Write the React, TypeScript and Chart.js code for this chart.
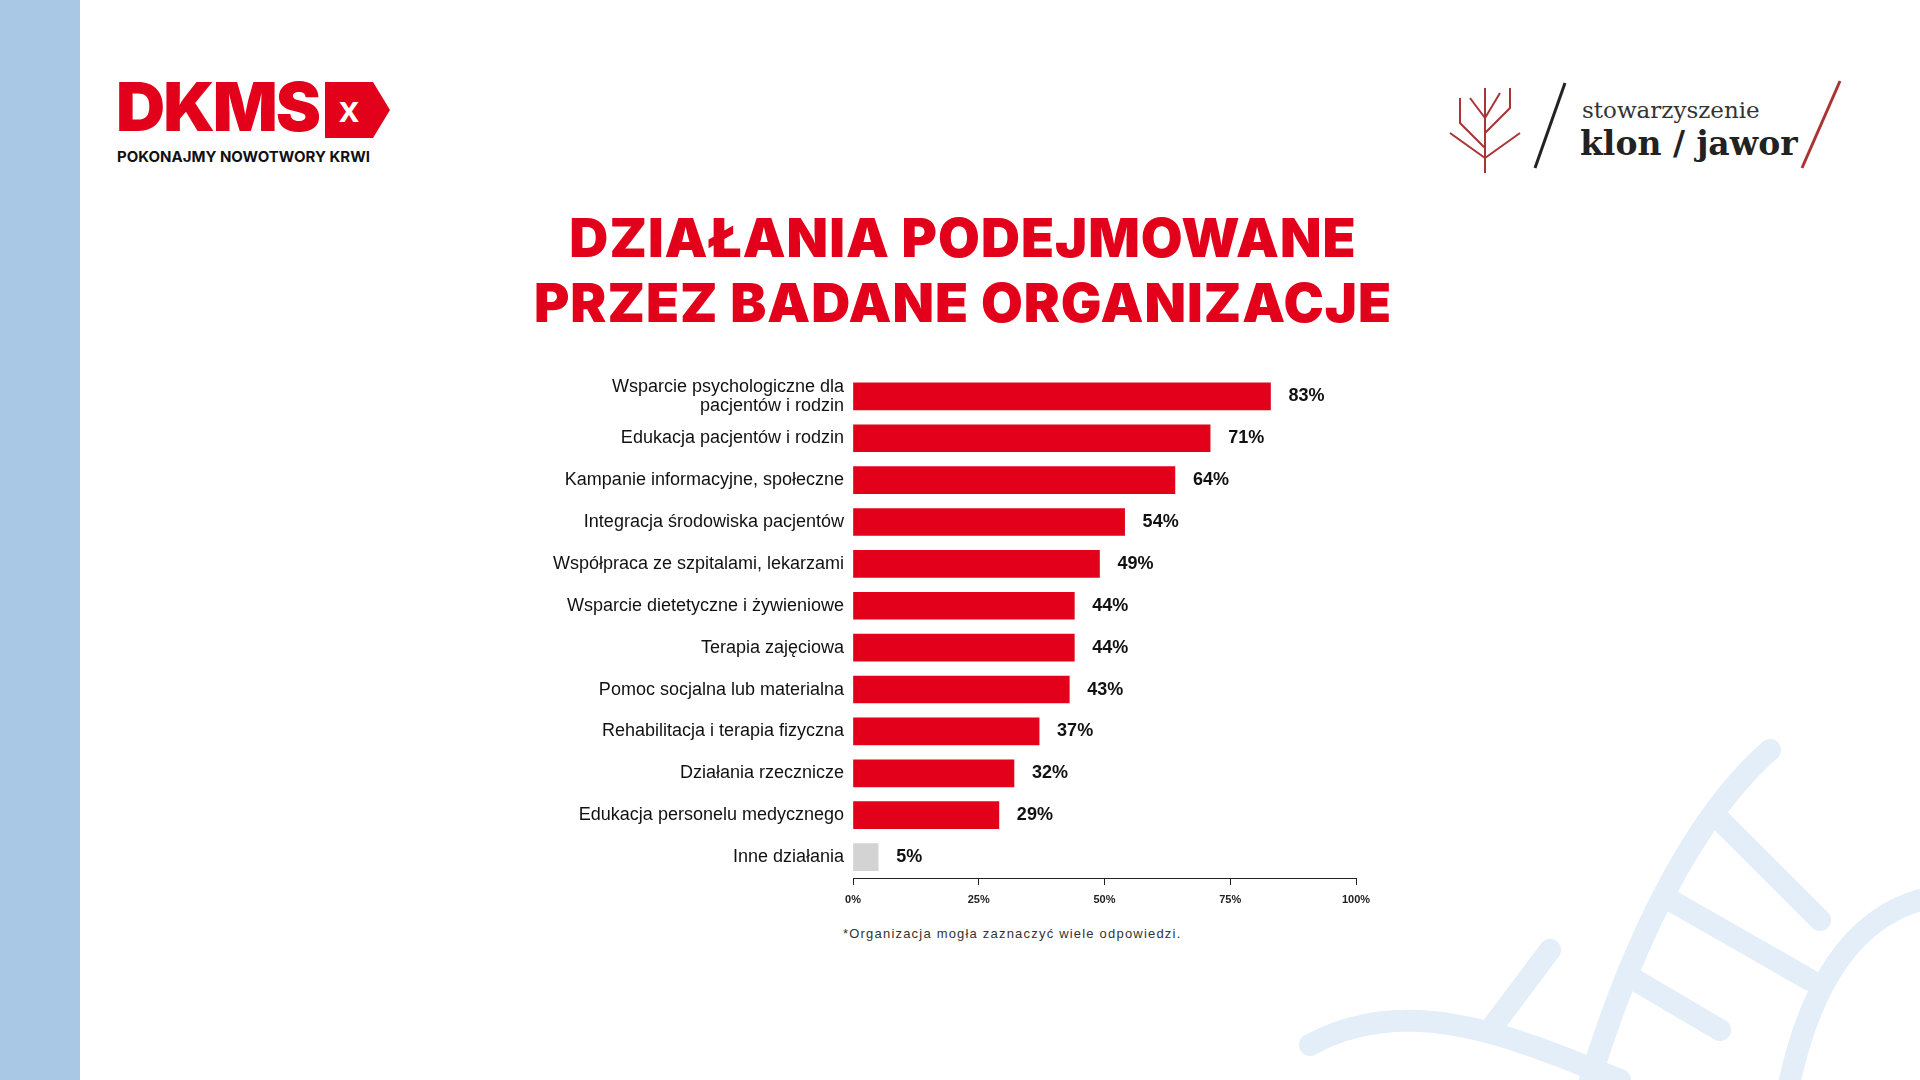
import React, { useEffect, useRef } from "react";
import { Chart, registerables } from "chart.js";
Chart.register(...registerables);

const categories: (string | string[])[] = [
  ["Wsparcie psychologiczne dla", "pacjentów i rodzin"],
  "Edukacja pacjentów i rodzin",
  "Kampanie informacyjne, społeczne",
  "Integracja środowiska pacjentów",
  "Współpraca ze szpitalami, lekarzami",
  "Wsparcie dietetyczne i żywieniowe",
  "Terapia zajęciowa",
  "Pomoc socjalna lub materialna",
  "Rehabilitacja i terapia fizyczna",
  "Działania rzecznicze",
  "Edukacja personelu medycznego",
  "Inne działania",
];
const values = [83, 71, 64, 54, 49, 44, 44, 43, 37, 32, 29, 5];
const barColors = values.map((_, i) => (i === values.length - 1 ? "#d3d3d3" : "#e2001a"));
const tickValues = [0, 25, 50, 75, 100];

const labelPlugin = {
  id: "valLabels",
  afterDatasetsDraw(chart: any) {
    const ctx = chart.ctx;
    const meta = chart.getDatasetMeta(0);
    ctx.save();
    ctx.font = "bold 18px 'Liberation Sans', Arial, sans-serif";
    ctx.fillStyle = "#111";
    ctx.textBaseline = "middle";
    meta.data.forEach((bar: any, i: number) => {
      ctx.fillText(values[i] + "%", bar.x + 18, bar.y);
    });
    ctx.restore();
  },
};

export default function App() {
  const ref = useRef<HTMLCanvasElement>(null);
  useEffect(() => {
    const chart = new Chart(ref.current!, {
      type: "bar",
      data: {
        labels: categories,
        datasets: [{ data: values, backgroundColor: barColors, barThickness: 27 }],
      },
      options: {
        indexAxis: "y",
        animation: false,
        responsive: false,
        layout: { padding: { top: 0, right: 59, left: 0, bottom: 0 } },
        plugins: { legend: { display: false }, tooltip: { enabled: false } },
        scales: {
          x: {
            min: 0,
            max: 100,
            afterBuildTicks: (s: any) => { s.ticks = tickValues.map((v) => ({ value: v })); },
            afterFit: (s: any) => { s.height = 40; },
            grid: { drawOnChartArea: false, tickLength: 7, color: "#222" },
            border: { display: true, color: "#222" },
            ticks: { padding: 8, callback: (v: any) => v + "%", color: "#222", font: { size: 11, family: "'Liberation Sans', Arial", weight: "bold" }, maxRotation: 0 },
          },
          y: {
            afterFit: (s: any) => { s.width = 338; },
            grid: { display: false },
            border: { display: false },
            ticks: { autoSkip: false, color: "#111", font: { size: 18, family: "'Liberation Sans', Arial", lineHeight: 1.05 }, padding: 1 },
          },
        },
      },
      plugins: [labelPlugin],
    });
    return () => chart.destroy();
  }, []);

  const sans = "'Inter', 'Lato', 'Liberation Sans', sans-serif";
  return (
    <div style={{ position: "absolute", left: 0, top: 0, width: 1920, height: 1080, background: "#fff", overflow: "hidden" }}>
      <div style={{ position: "absolute", left: 0, top: 0, width: 80, height: 1080, background: "#a9c8e6" }} />
      <svg style={{ position: "absolute", left: 1290, top: 730 }} width="630" height="350" viewBox="0 0 630 350">
        <g fill="none" stroke="#e3eef9" strokeWidth="22" strokeLinecap="round">
          <path d="M20 315 C 120 260, 230 310, 330 350" />
          <path d="M480 20 C 400 90, 340 220, 300 350" />
          <path d="M630 170 C 560 190, 520 260, 500 350" />
          <line x1="430" y1="90" x2="530" y2="190" />
          <line x1="380" y1="170" x2="520" y2="250" />
          <line x1="345" y1="250" x2="430" y2="300" />
          <line x1="200" y1="300" x2="260" y2="220" />
        </g>
      </svg>
      <div style={{ position: "absolute", left: 116, top: 72, fontFamily: sans, fontWeight: 900, fontSize: 68, color: "#e2001a", letterSpacing: -2, lineHeight: 1 }}>DKMS</div>
      <svg style={{ position: "absolute", left: 325, top: 82 }} width="65" height="56">
        <polygon points="0,0 48,0 65,28 48,56 0,56" fill="#e2001a" />
        <text x="24" y="40" textAnchor="middle" fill="#fff" fontSize="36" fontWeight="bold" fontFamily="Liberation Sans">x</text>
      </svg>
      <div style={{ position: "absolute", left: 117, top: 147, fontFamily: sans, fontWeight: 700, fontSize: 15, color: "#111" }}>POKONAJMY NOWOTWORY KRWI</div>
      <svg style={{ position: "absolute", left: 1440, top: 78 }} width="420" height="100">
        <g stroke="#a33" strokeWidth="2" fill="none">
          <line x1="45" y1="95" x2="45" y2="10" />
          <path d="M45 70 L20 45 L20 20 M45 55 L70 30 L70 10 M45 80 L10 55 M45 80 L80 55 M45 40 L30 20 M45 40 L60 15" />
        </g>
        <line x1="95" y1="90" x2="125" y2="5" stroke="#222" strokeWidth="3" />
        <text x="142" y="40" fontFamily="'DejaVu Serif', serif" fontSize="23" fill="#333">stowarzyszenie</text>
        <text x="140" y="77" fontFamily="'DejaVu Serif', serif" fontSize="33" fontWeight="bold" fill="#222">klon / jawor</text>
        <line x1="362" y1="90" x2="400" y2="3" stroke="#a33" strokeWidth="3" />
      </svg>
      <div style={{ position: "absolute", left: 0, width: 1926, top: 205, textAlign: "center", fontFamily: sans, fontWeight: 900, fontSize: 54, lineHeight: "65px", color: "#e2001a", letterSpacing: 1 }}>
        DZIAŁANIA PODEJMOWANE<br />PRZEZ BADANE ORGANIZACJE
      </div>
      <canvas ref={ref} width={900} height={553} style={{ position: "absolute", left: 515, top: 365, width: 900, height: 553 }} />
      <div style={{ position: "absolute", left: 843, top: 926, fontFamily: "'Liberation Sans', Arial", fontSize: 13, letterSpacing: 1.2, color: "#333" }}>
        *Organizacja mogła zaznaczyć wiele odpowiedzi.
      </div>
    </div>
  );
}
